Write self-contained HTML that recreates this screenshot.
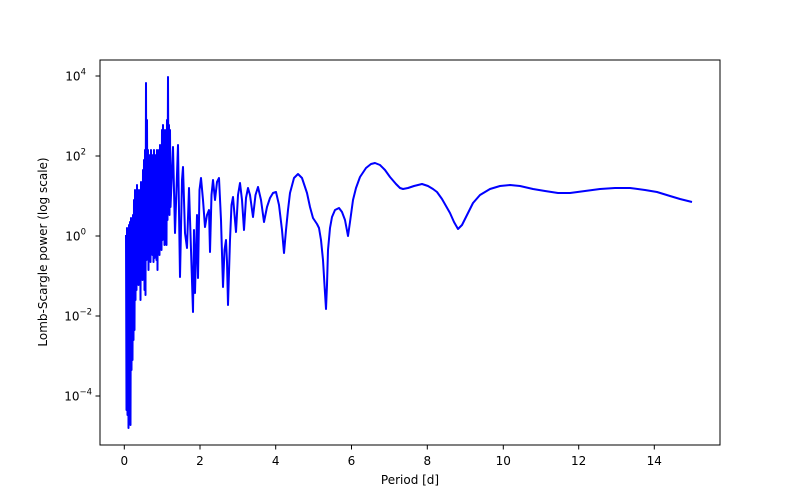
<!DOCTYPE html>
<html><head><meta charset="utf-8"><style>
body{margin:0;background:#fff;}
svg{display:block;font-family:"DejaVu Sans","Liberation Sans",sans-serif;}
</style></head><body>
<svg width="800" height="500" viewBox="0 0 800 500" xmlns="http://www.w3.org/2000/svg">
<rect width="800" height="500" fill="#fff"/>
<defs><clipPath id="c"><rect x="100" y="60" width="620" height="385"/></clipPath></defs>
<g clip-path="url(#c)">
<polyline fill="none" stroke="#0000ff" stroke-width="2" stroke-linejoin="round" points="
126,235 126.5,410 127,228 127.5,415 128,232 128.5,428 129,225 129.5,420 130,222 130.5,425 131,218 131.5,370 132,226 132.5,360 133,215 133.5,340 134,200 134.5,330 135,190 135.5,300 136,210 136.5,290 137,185 137.5,280 138,200 138.5,285 139,190 139.5,270 140,195 140.5,300 141,182 141.5,272 142,190 142.5,280 143,170 143.5,265 144,160 144.5,290 145,150 145.5,295 146,83 146.5,260 147,120 147.5,250 148,150 148.5,270 149,155 149.5,255 150,158 150.5,262 151,150 151.5,250 152,155 152.5,255 153,160 153.5,262 154,150 154.5,258 155,160 155.5,250 156,155 156.5,260 157,150 157.5,270 158,160 158.5,250 159,150 159.5,255 160,145 160.5,248 161,150 161.5,250 162,130 162.5,240 163,125 163.5,230 164,135 164.5,245 165,130 165.5,230 166,140 166.5,245 167,120 167.5,220 168,77 168.5,200 169,125 169.5,215 170,130 170.5,207
173,147 175,233 178,145 180,277 182,180 183,167 185,233 187,248 189,188 191,250 193,312 194,230 195,293 197,215 198,278 199.5,190 201,178 203,200 205,227 207,215 209,210 210,252 211.5,195 213,180 215,200 217,182 219,178 221,220 223,287 224.5,250 226,240 227,262 228,305 230,240 231.5,205 233,197 236,232 238,195 240,183 242,200 244,230 246,198 248,188 250,195 253,217 255.5,195 258,187 261,200 264,222 267,207 270,198 273,193 276,192 279,205 282,230 284,253 286,230 288,210 290,193 294,178 298,174 302,178 307,193 310,207 313,218 317,224 319,228 321,240 323,260 324.5,285 326,309 327,285 328,250 330,228 332,217 335,210 339,208 342,212 345,220 348,236 350,222 353,200 356,188 360,177 366,168 371,164 375,163 380,165 385,170 390,177 396,184 400,188 403,189 408,188 414,186 422,184 428,186 433,189 437,192 442,199 446,206 450,213 454,222 458,229 462,225 467,215 473,203 480,195 490,189 500,186 510,185 520,186 533,189 545,191 558,193 570,193 585,191 600,189 615,188 630,188 645,190 657,192 670,196 680,199 692,202"/>
</g>
<rect x="100" y="60" width="620" height="385" fill="none" stroke="#000" stroke-width="1"/>
<g stroke="#000" stroke-width="1">
<line x1="124.3" y1="445" x2="124.3" y2="449.5"/><line x1="200" y1="445" x2="200" y2="449.5"/><line x1="275.7" y1="445" x2="275.7" y2="449.5"/><line x1="351.5" y1="445" x2="351.5" y2="449.5"/><line x1="427.3" y1="445" x2="427.3" y2="449.5"/><line x1="503.3" y1="445" x2="503.3" y2="449.5"/><line x1="578.7" y1="445" x2="578.7" y2="449.5"/><line x1="654.3" y1="445" x2="654.3" y2="449.5"/>
<line x1="95.5" y1="76" x2="100" y2="76"/><line x1="95.5" y1="156" x2="100" y2="156"/><line x1="95.5" y1="236" x2="100" y2="236"/><line x1="95.5" y1="316" x2="100" y2="316"/><line x1="95.5" y1="396" x2="100" y2="396"/>
</g>
<g font-size="12" fill="#000" text-anchor="middle">
<text x="124.3" y="465">0</text><text x="200" y="465">2</text><text x="275.7" y="465">4</text><text x="351.5" y="465">6</text><text x="427.3" y="465">8</text><text x="503.3" y="465">10</text><text x="578.7" y="465">12</text><text x="654.3" y="465">14</text>
<text x="410" y="484">Period [d]</text>
</g>
<g font-size="12" fill="#000" text-anchor="end">
<text x="86" y="80.5">10<tspan font-size="8.5" dy="-6">4</tspan></text>
<text x="86" y="160.5">10<tspan font-size="8.5" dy="-6">2</tspan></text>
<text x="86" y="240.5">10<tspan font-size="8.5" dy="-6">0</tspan></text>
<text x="92" y="320.5">10<tspan font-size="8.5" dy="-6">−2</tspan></text>
<text x="92" y="400.5">10<tspan font-size="8.5" dy="-6">−4</tspan></text>
</g>
<text transform="translate(47,252) rotate(-90)" font-size="12" text-anchor="middle">Lomb-Scargle power (log scale)</text>
</svg>
</body></html>
